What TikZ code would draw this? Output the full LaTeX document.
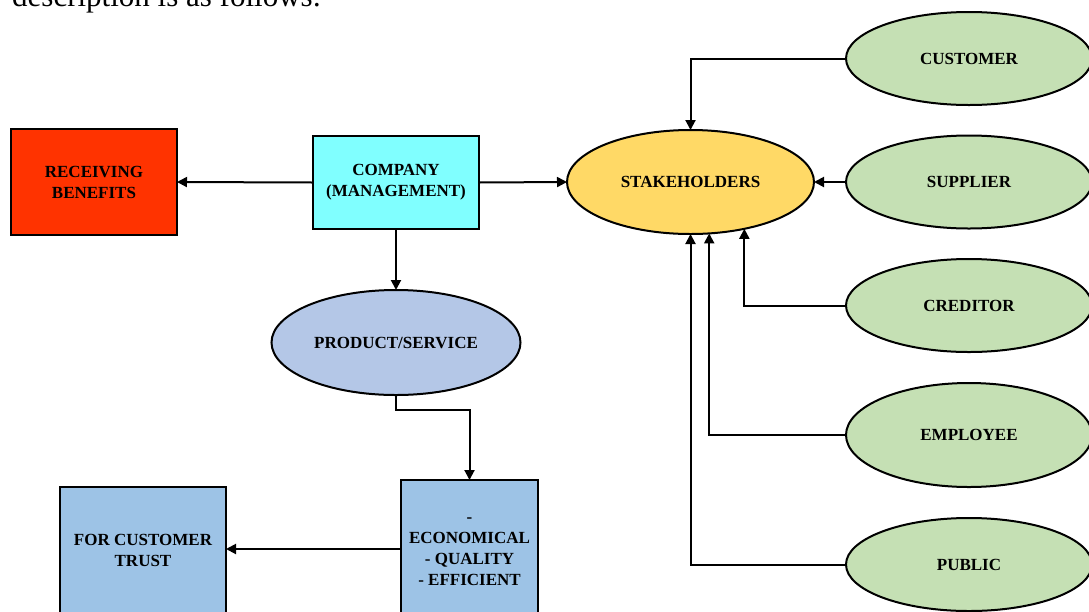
\documentclass[tikz,border=0pt]{standalone}
\usepackage{fontspec}
\setmainfont{Liberation Serif}
\usetikzlibrary{arrows.meta,shapes.geometric}
\definecolor{cred}{HTML}{FF3300}
\definecolor{ccyan}{HTML}{80FFFF}
\definecolor{cyel}{HTML}{FFD966}
\definecolor{cgreen}{HTML}{C5E0B4}
\definecolor{cprod}{HTML}{B4C7E7}
\definecolor{cblue}{HTML}{9DC3E6}
\begin{document}
\begin{tikzpicture}[x=1pt,y=-1pt,
 lbl/.style={font=\fontsize{17}{21}\selectfont\bfseries, align=center, text=black},
 rbox/.style={lbl, draw=black, line width=2pt, inner sep=0pt, outer sep=0pt, rectangle},
 ell/.style={lbl, draw=black, line width=2pt, inner sep=0pt, outer sep=0pt, ellipse},
 conn/.style={line width=2pt, -{Triangle[length=10pt,width=10pt]}}]
 \useasboundingbox (0,0) rectangle (1089,611);
 \clip (0,0) rectangle (1089,611);
 \node[anchor=base west, font=\fontsize{31}{31}\selectfont, inner sep=0pt] (desc) at (12,6) {description is as follows:};
 \node[rbox, fill=cred, minimum width=166pt, minimum height=106pt] (recv) at (94,182) {RECEIVING\\BENEFITS};
 \node[rbox, fill=ccyan, minimum width=166pt, minimum height=93pt] (comp) at (396,182.5) {COMPANY\\(MANAGEMENT)};
 \node[ell, fill=cyel, minimum width=247pt, minimum height=104pt] (stake) at (690.5,182) {STAKEHOLDERS};
 \node[ell, fill=cgreen, minimum width=246pt, minimum height=93pt] (cust) at (969,58.5) {CUSTOMER};
 \node[ell, fill=cgreen, minimum width=246pt, minimum height=93pt] (supp) at (969,182) {SUPPLIER};
 \node[ell, fill=cgreen, minimum width=246pt, minimum height=93pt] (credi) at (969,305.5) {CREDITOR};
 \node[ell, fill=cgreen, minimum width=246pt, minimum height=104pt] (empl) at (969,435) {EMPLOYEE};
 \node[ell, fill=cgreen, minimum width=246pt, minimum height=93pt] (publ) at (969,564.5) {PUBLIC};
 \node[ell, fill=cprod, minimum width=249pt, minimum height=105pt] (prod) at (396,342.5) {PRODUCT/SERVICE};
 \node[rbox, fill=cblue, minimum width=137pt, minimum height=144pt] (econ) at (469.5,552) {-\\ECONOMICAL\\- QUALITY\\- EFFICIENT};
 \node[rbox, fill=cblue, minimum width=166pt, minimum height=126pt] (trust) at (143,550) {FOR CUSTOMER\\TRUST};
 \draw[conn] (comp.west) -- (recv.east);
 \draw[conn] (comp.east) -- (stake.west);
 \draw[conn] (cust.west) -| (stake.north);
 \draw[conn] (supp.west) -- (stake.east);
 \draw[conn] (credi.west) -| (stake.-41.6);
 \draw[conn] (empl.west) -| (stake.-70.7);
 \draw[conn] (publ.west) -| (stake.south);
 \draw[conn] (comp.south) -- (prod.north);
 \draw[conn] (prod.south) -- ++(0,15) -| (econ.north);
 \draw[conn] (econ.west |- 0,549) -- (trust.east |- 0,549);
\end{tikzpicture}
\end{document}
